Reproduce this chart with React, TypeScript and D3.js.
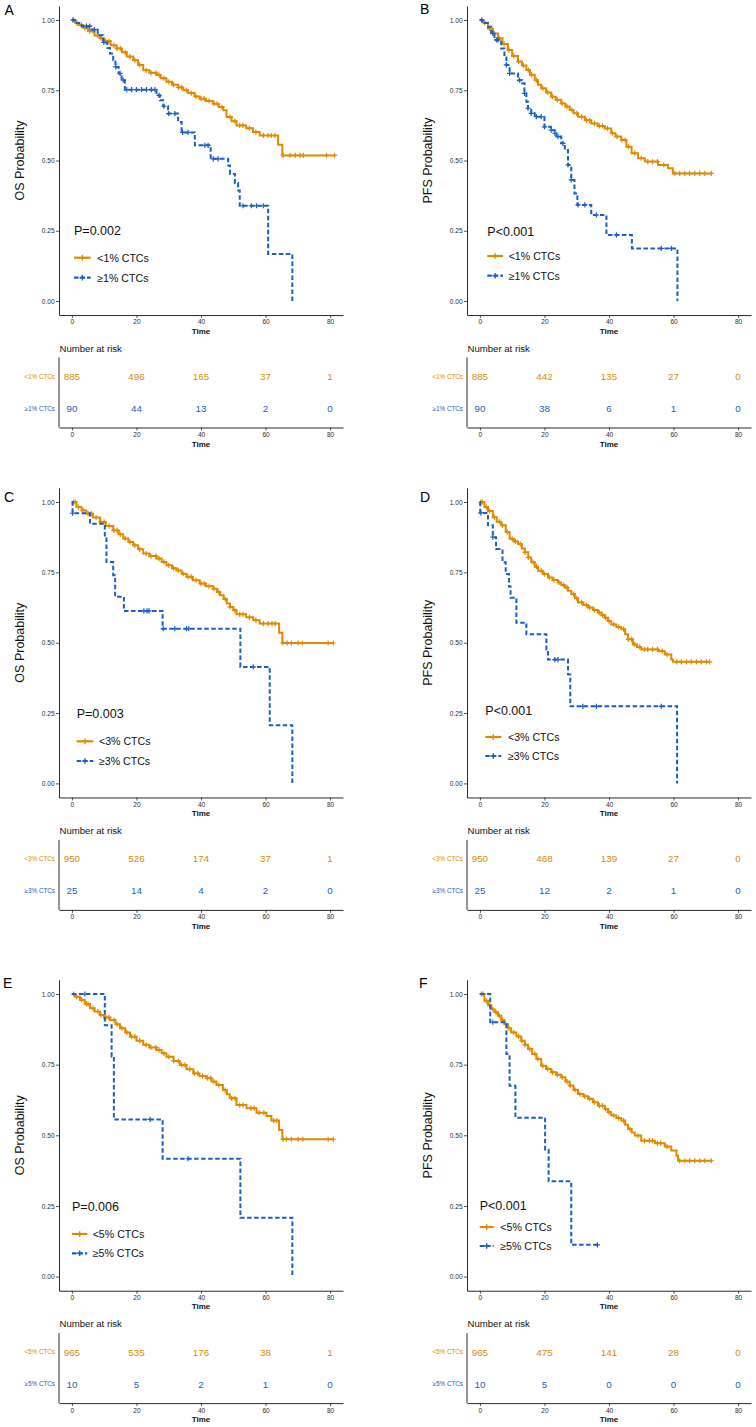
import { useEffect, useRef } from 'react'
import * as d3 from 'd3'

type Step = [number, number]

// ---- labels ----
const panelLetters = ['A', 'B', 'C', 'D', 'E', 'F']
const yTitles = ['OS Probability', 'PFS Probability', 'OS Probability', 'PFS Probability', 'OS Probability', 'PFS Probability']
const pTexts = ['P=0.002', 'P<0.001', 'P=0.003', 'P<0.001', 'P=0.006', 'P<0.001']
const lowNames = ['<1% CTCs', '<1% CTCs', '<3% CTCs', '<3% CTCs', '<5% CTCs', '<5% CTCs']
const highNames = ['≥1% CTCs', '≥1% CTCs', '≥3% CTCs', '≥3% CTCs', '≥5% CTCs', '≥5% CTCs']
const timeTicks = [0, 20, 40, 60, 80]
const probTicks = [0, 0.25, 0.5, 0.75, 1]

// ---- number at risk ----
const riskLow = [
  [885, 496, 165, 37, 1],
  [885, 442, 135, 27, 0],
  [950, 526, 174, 37, 1],
  [950, 468, 139, 27, 0],
  [965, 535, 176, 38, 1],
  [965, 475, 141, 28, 0],
]
const riskHigh = [
  [90, 44, 13, 2, 0],
  [90, 38, 6, 1, 0],
  [25, 14, 4, 2, 0],
  [25, 12, 2, 1, 0],
  [10, 5, 2, 1, 0],
  [10, 5, 0, 0, 0],
]

// ---- survival steps [time, survival after step] ----
const lowA: Step[] = [[0, 1], [1, 0.99], [2, 0.982], [3.5, 0.972], [5, 0.96], [7, 0.945], [8.7, 0.935], [10, 0.925], [12, 0.91], [13.8, 0.899], [15.5, 0.885], [17, 0.87], [19, 0.857], [20.5, 0.84], [22.1, 0.821], [24, 0.812], [26.2, 0.804], [27.5, 0.793], [29.3, 0.78], [31, 0.77], [33, 0.76], [34.5, 0.75], [36, 0.74], [38, 0.728], [39.6, 0.72], [41.5, 0.712], [43.8, 0.702], [45.5, 0.69], [46.9, 0.679], [47.9, 0.655], [49.5, 0.64], [51, 0.625], [54, 0.615], [56.1, 0.601], [58.2, 0.589], [63.9, 0.556], [65.2, 0.518]]
const highA: Step[] = [[0, 1], [1, 0.989], [3, 0.978], [6, 0.966], [8, 0.946], [9.7, 0.92], [11, 0.9], [11.8, 0.881], [12.8, 0.857], [13.5, 0.833], [14.5, 0.81], [15.4, 0.786], [16.4, 0.752], [26.2, 0.732], [27.3, 0.714], [28.3, 0.693], [29.8, 0.667], [32.9, 0.637], [34, 0.6], [38.1, 0.554], [43, 0.506], [48.4, 0.482], [49, 0.452], [50.5, 0.42], [51.5, 0.393], [52, 0.339], [60.8, 0.167], [68.3, 0]]
const lowB: Step[] = [[0, 1], [1, 0.99], [2.5, 0.97], [4, 0.952], [5.6, 0.935], [7, 0.915], [8.7, 0.893], [10, 0.872], [11.8, 0.852], [13, 0.838], [14.4, 0.822], [15.5, 0.805], [17, 0.786], [18, 0.77], [19, 0.757], [20.5, 0.742], [22.1, 0.727], [23.5, 0.716], [25.2, 0.703], [26.5, 0.692], [27.8, 0.68], [29, 0.668], [30.4, 0.656], [32.5, 0.643], [34.5, 0.632], [36.5, 0.623], [38.7, 0.614], [40.7, 0.597], [42, 0.585], [43.8, 0.573], [45.4, 0.549], [47, 0.526], [49, 0.508], [51.1, 0.496], [55.2, 0.484], [58.3, 0.472], [59.8, 0.454]]
const highB: Step[] = [[0, 1], [0.8, 0.989], [2.5, 0.976], [3.5, 0.953], [4.5, 0.929], [6.6, 0.899], [7.6, 0.87], [8.2, 0.84], [9.2, 0.81], [11.8, 0.786], [13.1, 0.775], [13.8, 0.739], [14.4, 0.709], [14.9, 0.686], [15.9, 0.668], [17, 0.656], [20, 0.62], [22, 0.608], [23.2, 0.597], [23.7, 0.585], [25.2, 0.561], [26.3, 0.537], [27.3, 0.484], [28.3, 0.431], [29.3, 0.383], [30.2, 0.342], [34.5, 0.306], [39.2, 0.235], [47.1, 0.187], [61.2, 0]]
const lowC: Step[] = [[0, 1], [1.4, 0.982], [3, 0.97], [4.5, 0.959], [6.5, 0.945], [8.7, 0.929], [10.5, 0.915], [12.8, 0.899], [14.5, 0.885], [15.9, 0.87], [17.5, 0.858], [19, 0.846], [20.5, 0.832], [22.1, 0.817], [24, 0.808], [26.2, 0.799], [27.8, 0.787], [29.3, 0.775], [31, 0.765], [32.4, 0.757], [34, 0.745], [35.5, 0.734], [37.5, 0.722], [39.6, 0.71], [41.5, 0.701], [43.8, 0.692], [45, 0.68], [45.9, 0.669], [47, 0.655], [48, 0.639], [49, 0.627], [50, 0.615], [51, 0.601], [54, 0.59], [56.2, 0.58], [58.2, 0.568], [64.2, 0.535], [65.2, 0.499]]
const highC: Step[] = [[0, 1], [0.2, 0.96], [5.6, 0.923], [10.2, 0.876], [10.7, 0.787], [12.8, 0.74], [13.4, 0.663], [16.1, 0.613], [28.1, 0.55], [52.2, 0.414], [61.3, 0.207], [68.3, 0]]
const lowD: Step[] = [[0, 1], [1.4, 0.982], [2.5, 0.968], [4, 0.946], [5.2, 0.93], [6.6, 0.917], [8, 0.893], [9.2, 0.869], [10.5, 0.86], [11.8, 0.851], [13, 0.835], [13.9, 0.821], [15, 0.803], [15.9, 0.786], [17, 0.77], [18, 0.756], [19.5, 0.744], [21.1, 0.732], [22.5, 0.723], [24.2, 0.714], [25.2, 0.705], [26.3, 0.696], [27.3, 0.685], [28.3, 0.673], [29.4, 0.658], [30.4, 0.643], [32, 0.634], [33.5, 0.625], [35, 0.616], [36.6, 0.607], [37.7, 0.598], [38.7, 0.589], [39.7, 0.577], [40.7, 0.565], [42.3, 0.556], [43.8, 0.548], [45, 0.53], [45.9, 0.512], [47.4, 0.494], [48.7, 0.485], [50, 0.476], [55.2, 0.47], [57.3, 0.458], [59.3, 0.44], [59.8, 0.432]]
const highD: Step[] = [[0, 1], [0.1, 0.961], [2.5, 0.917], [4, 0.875], [5, 0.833], [7, 0.786], [8, 0.744], [9, 0.7], [9.5, 0.66], [11.3, 0.571], [14.4, 0.53], [20.6, 0.476], [21.1, 0.44], [27.3, 0.387], [28, 0.274], [61.1, 0]]
const lowE: Step[] = [[0, 1], [1, 0.99], [2.5, 0.979], [4, 0.965], [5.6, 0.95], [7, 0.938], [8.7, 0.926], [10, 0.917], [11.8, 0.908], [13.5, 0.893], [14.9, 0.879], [16.5, 0.864], [18, 0.849], [20, 0.835], [22.1, 0.82], [24, 0.811], [26.2, 0.802], [27.8, 0.79], [29.3, 0.778], [31.5, 0.763], [33.4, 0.749], [35.5, 0.734], [37.6, 0.719], [39.5, 0.71], [41.7, 0.702], [43.3, 0.69], [44.8, 0.678], [46.8, 0.66], [48, 0.645], [48.9, 0.631], [51, 0.607], [54.1, 0.596], [57.2, 0.58], [60.3, 0.568], [61.8, 0.552], [64.2, 0.519], [65.2, 0.486]]
const highE: Step[] = [[0, 1], [10.2, 0.889], [12.3, 0.778], [13, 0.556], [28.1, 0.417], [52.2, 0.208], [68.3, 0]]
const lowF: Step[] = [[0, 1], [1.4, 0.976], [2.5, 0.96], [3.5, 0.946], [4.5, 0.935], [5.6, 0.923], [6.6, 0.908], [7.6, 0.894], [8.7, 0.879], [9.7, 0.864], [11.3, 0.85], [12.8, 0.835], [13.9, 0.82], [14.9, 0.805], [16.2, 0.788], [17.5, 0.77], [19, 0.746], [20.5, 0.735], [22.1, 0.723], [23.7, 0.714], [25.2, 0.705], [26.5, 0.69], [27.8, 0.676], [29, 0.661], [30.4, 0.646], [32, 0.638], [33.5, 0.629], [35, 0.617], [36.6, 0.605], [38.7, 0.593], [39.7, 0.582], [40.7, 0.57], [42.3, 0.561], [43.8, 0.552], [45, 0.537], [45.9, 0.522], [47, 0.51], [48, 0.499], [50, 0.481], [54.2, 0.472], [57.3, 0.46], [59.3, 0.446], [60.9, 0.428], [61.4, 0.41]]
const highF: Step[] = [[0, 1], [3.2, 0.9], [8.2, 0.7875], [9.2, 0.675], [11, 0.5625], [20.2, 0.45], [21.3, 0.3375], [28.3, 0.1125]]

const lowCurves = [lowA, lowB, lowC, lowD, lowE, lowF]
const highCurves = [highA, highB, highC, highD, highE, highF]
const lowEnd = [81.4, 71.7, 81, 71.2, 81, 71.7]
const highEnd = [68.3, 61.2, 68.3, 61.1, 68.3, 36.4]

// ---- censoring times ----
const lowCensor = [
  [0.5, 1.5, 3, 4, 5.5, 6.5, 8, 9, 10.5, 11.5, 13, 14, 15, 16.5, 18, 19.5, 21, 23, 24.5, 26, 27, 28.5, 30, 31.5, 33, 34, 35.5, 37, 38.5, 40, 41, 42.5, 44, 45, 46.5, 49, 50.5, 52, 53, 55, 57, 59.3, 60.8, 61.8, 62.9, 65.5, 67.6, 69.2, 70.7, 71.7, 78.9, 81.4],
  [0.5, 1.5, 3, 4.5, 6, 7.5, 9, 10.5, 12, 13.5, 15, 16, 17.5, 19.5, 21, 22.5, 24, 25.5, 27, 28.5, 30, 31.5, 33, 34, 35.5, 37, 38, 39.5, 41, 42.5, 44, 45, 46, 48, 50, 52, 53.5, 55, 57, 60.4, 61.9, 63.5, 65, 66.6, 68.1, 69.7, 71.7],
  [0.5, 1, 2, 3.5, 5, 6, 7.5, 9, 10, 11.5, 13, 14, 15, 16.5, 18, 19.5, 21, 23, 24.5, 26, 27, 28.5, 30, 31.5, 33, 34.5, 36, 37, 38.5, 40, 41, 42.5, 44, 45.5, 47.5, 49, 50.5, 52, 53, 55, 57, 59.3, 60.8, 62, 63, 65.4, 66.7, 68, 70.1, 71.4, 79.4, 81],
  [0.3, 0.8, 2, 3, 4.5, 6, 7, 8.5, 10, 11, 12.5, 14, 15, 16.5, 17.5, 19, 20, 21.5, 23, 24.5, 26, 27, 29, 30, 31.5, 33, 34, 35.5, 37, 38, 39, 40, 41.5, 43, 44.5, 46, 47, 48, 49.5, 51, 52, 53.5, 55, 56.5, 58, 61, 62.4, 64, 65.5, 67.1, 68.6, 70.2, 71.2],
  [0.5, 1.5, 3, 4.5, 5, 6.5, 8, 9, 10.5, 11.5, 13, 14, 15.5, 17, 18.5, 19.5, 21, 23, 24.5, 26, 27, 28.5, 30, 31.5, 33, 34, 35, 36.5, 38, 39, 40.5, 42, 43, 44, 45.5, 47.5, 49.5, 50.5, 52, 53, 55.5, 56.5, 58, 59.5, 62.5, 63.5, 65.4, 66.5, 68, 70.1, 71.6, 79.4, 81],
  [0.5, 1, 2, 3, 4, 5, 6, 7, 8, 9, 10.5, 12, 13, 14, 15.5, 17, 18, 19.5, 21, 22.5, 24, 25.5, 27, 28, 29.5, 31, 32.5, 34, 35.5, 37, 38, 39, 40, 41.5, 43, 44.5, 46.5, 49, 51, 52.5, 53.5, 55, 56, 58, 61.9, 63.5, 65, 66.6, 68.1, 69.7, 71.7],
]
const highCensor = [
  [0.3, 4.5, 5.5, 7, 9.9, 13.6, 14.9, 15.9, 17, 18.5, 20, 21.6, 23.1, 24.6, 25.7, 27, 28.5, 30, 31.9, 34.3, 36, 41.2, 42.2, 43.8, 45.3, 53, 55.6, 57.2, 59.3],
  [0.6, 4, 5.1, 5.6, 8.2, 9.2, 12.3, 13.8, 14.9, 15.9, 17.5, 19, 20, 22.1, 23.2, 24.2, 25.7, 27.3, 28.3, 30.4, 32.5, 36.1, 42.3, 56.2, 59.3],
  [0.2, 22.3, 23.3, 23.9, 28.3, 31.9, 35.5, 36.2, 56.2],
  [0.3, 4, 23.2, 24.2, 31.9, 36.1, 56.2],
  [4, 24.2, 36],
  [4, 36.4],
]

// ---- layout ----
const colX = [59, 467]
const rowTop = [20, 502, 994]
const rowBottom = [301, 783.4, 1276.6]
const letterPos = [[4.5, 14.5], [420, 13.5], [4, 502], [420, 502], [3, 988], [419, 988]]
const legendPos = [
  { x0: 74, x1: 90.7, tx: 97.3, p: 210, r1: 237.7, r2: 257.7 },
  { x0: 487.3, x1: 503, tx: 508.7, p: 211, r1: 236, r2: 255.7 },
  { x0: 76.7, x1: 93.3, tx: 99, p: 211.6, r1: 239.3, r2: 259 },
  { x0: 485.3, x1: 501.3, tx: 508, p: 208, r1: 235, r2: 254 },
  { x0: 72, x1: 87.3, tx: 92.7, p: 212.7, r1: 240, r2: 259.3 },
  { x0: 479.7, x1: 493.7, tx: 500.3, p: 211, r1: 233, r2: 252 },
]

const ORANGE = '#E08A00'
const BLUE = '#1B5EC6'
const INK = '#2b2b2b'
const FONT = '"Liberation Sans", Arial, sans-serif'

function stepAt(steps: Step[], t: number) {
  let s = steps[0][1]
  for (const [tt, v] of steps) if (tt <= t) s = v
  return s
}

export default function App() {
  const svgRef = useRef<SVGSVGElement>(null)

  useEffect(() => {
    if (!svgRef.current) return
    const svg = d3.select(svgRef.current)
    svg.selectAll('*').remove()

    const styleAxis = (g: d3.Selection<SVGGElement, unknown, null, undefined>) => {
      g.selectAll('.domain').attr('stroke', INK).attr('stroke-width', 1)
      g.selectAll('.tick line').attr('stroke', INK).attr('stroke-width', 0.8)
      g.selectAll('.tick text').attr('fill', INK).attr('font-size', '6.5px').attr('font-family', FONT)
    }

    panelLetters.forEach((letter, i) => {
      const col = i % 2
      const row = Math.floor(i / 2)
      const ax = colX[col]
      const yTop = rowTop[row]
      const yBot = rowBottom[row]
      const h = yBot - yTop
      const lg = legendPos[i]

      const x = d3.scaleLinear().domain([-4, 84]).range([ax, ax + 284])
      const y = d3.scaleLinear().domain([-0.05, 1.05]).range([yBot + 0.05 * h, yTop - 0.05 * h])
      const axisY = y(-0.05)

      const g = svg.append('g')

      // panel letter
      g.append('text')
        .attr('x', letterPos[i][0])
        .attr('y', letterPos[i][1])
        .attr('font-size', '14px')
        .attr('fill', '#000')
        .text(letter)

      // axes
      const yAx = g.append('g')
        .attr('transform', `translate(${ax},0)`)
        .call(d3.axisLeft(y).tickValues(probTicks).tickFormat(d3.format('.2f')).tickSize(3).tickSizeOuter(0).tickPadding(1.5))
      styleAxis(yAx)

      const xAx = g.append('g')
        .attr('transform', `translate(0,${axisY})`)
        .call(d3.axisBottom(x).tickValues(timeTicks).tickSize(3).tickSizeOuter(0).tickPadding(1.8))
      styleAxis(xAx)

      g.append('text')
        .attr('x', ax + 142)
        .attr('y', yBot + 32.5)
        .attr('text-anchor', 'middle')
        .attr('font-size', '8px')
        .attr('font-weight', 'bold')
        .attr('fill', '#111')
        .text('Time')

      g.append('text')
        .attr('transform', `translate(${ax - 39.5},${(yTop + yBot) / 2}) rotate(-90)`)
        .attr('text-anchor', 'middle')
        .attr('dy', '0.36em')
        .attr('font-size', '12.5px')
        .attr('fill', '#111')
        .text(yTitles[i])

      // curves
      const line = d3.line<Step>()
        .x(d => x(d[0]))
        .y(d => y(d[1]))
        .curve(d3.curveStepAfter)

      const groups = [
        { steps: lowCurves[i], end: lowEnd[i], censor: lowCensor[i], color: ORANGE, dash: null as string | null },
        { steps: highCurves[i], end: highEnd[i], censor: highCensor[i], color: BLUE, dash: '4.5,2.5' },
      ]

      groups.forEach(gr => {
        const last = gr.steps[gr.steps.length - 1]
        const pts: Step[] = last[0] < gr.end ? [...gr.steps, [gr.end, last[1]]] : gr.steps
        g.append('path')
          .attr('d', line(pts))
          .attr('fill', 'none')
          .attr('stroke', gr.color)
          .attr('stroke-width', 2)
          .attr('stroke-dasharray', gr.dash)

        g.append('g')
          .selectAll('path')
          .data(gr.censor)
          .enter()
          .append('path')
          .attr('d', t => {
            const cx = x(t)
            const cy = y(stepAt(gr.steps, t))
            return `M${cx - 2.6},${cy}h5.2M${cx},${cy - 2.6}v5.2`
          })
          .attr('stroke', gr.color)
          .attr('stroke-width', 1.2)
      })

      // p-value and legend
      g.append('text')
        .attr('x', lg.x0)
        .attr('y', yTop + lg.p + 4.5)
        .attr('font-size', '12.5px')
        .attr('fill', '#111')
        .text(pTexts[i])

      const legendRows = [
        { name: lowNames[i], color: ORANGE, dash: null as string | null, off: lg.r1 },
        { name: highNames[i], color: BLUE, dash: '4.5,2', off: lg.r2 },
      ]
      legendRows.forEach(r => {
        const cy = yTop + r.off
        const mx = (lg.x0 + lg.x1) / 2
        g.append('line')
          .attr('x1', lg.x0).attr('x2', lg.x1)
          .attr('y1', cy).attr('y2', cy)
          .attr('stroke', r.color)
          .attr('stroke-width', 2.2)
          .attr('stroke-dasharray', r.dash)
        g.append('path')
          .attr('d', `M${mx - 2.8},${cy}h5.6M${mx},${cy - 2.8}v5.6`)
          .attr('stroke', r.color)
          .attr('stroke-width', 1.4)
        g.append('text')
          .attr('x', lg.tx)
          .attr('y', cy + 3.8)
          .attr('font-size', '10.6px')
          .attr('fill', '#111')
          .text(r.name)
      })

      // risk table
      const tTop = yBot + 56.5
      const tBot = yBot + 126.5
      const ry = d3.scalePoint<string>().domain(['low', 'high']).range([tTop, tBot]).padding(0.6)

      g.append('text')
        .attr('x', ax + 0.5)
        .attr('y', yBot + 50.5)
        .attr('font-size', '9.6px')
        .attr('fill', '#111')
        .text('Number at risk')

      g.append('line')
        .attr('x1', ax).attr('x2', ax)
        .attr('y1', tTop).attr('y2', tBot)
        .attr('stroke', INK)
        .attr('stroke-width', 1)

      const tAx = g.append('g')
        .attr('transform', `translate(0,${tBot})`)
        .call(d3.axisBottom(x).tickValues(timeTicks).tickSize(3).tickSizeOuter(0).tickPadding(1.8))
      styleAxis(tAx)

      g.append('text')
        .attr('x', ax + 142)
        .attr('y', yBot + 145.5)
        .attr('text-anchor', 'middle')
        .attr('font-size', '8px')
        .attr('font-weight', 'bold')
        .attr('fill', '#111')
        .text('Time')

      const tableRows = [
        { key: 'low', name: lowNames[i], vals: riskLow[i], color: ORANGE },
        { key: 'high', name: highNames[i], vals: riskHigh[i], color: BLUE },
      ]
      tableRows.forEach(r => {
        const cy = ry(r.key) as number
        g.append('text')
          .attr('x', ax - 4)
          .attr('y', cy + 2.2)
          .attr('text-anchor', 'end')
          .attr('font-size', '6.3px')
          .attr('fill', r.color)
          .text(r.name)
        g.append('g')
          .selectAll('text')
          .data(r.vals)
          .enter()
          .append('text')
          .attr('x', (_, j) => x(timeTicks[j]))
          .attr('y', cy + 3.5)
          .attr('text-anchor', 'middle')
          .attr('font-size', '9.8px')
          .attr('fill', r.color)
          .text(d => d)
      })
    })
  }, [])

  return (
    <svg
      ref={svgRef}
      width={756}
      height={1427}
      fontFamily={FONT}
      style={{ position: 'absolute', left: 0, top: 0, background: '#fff' }}
    />
  )
}
